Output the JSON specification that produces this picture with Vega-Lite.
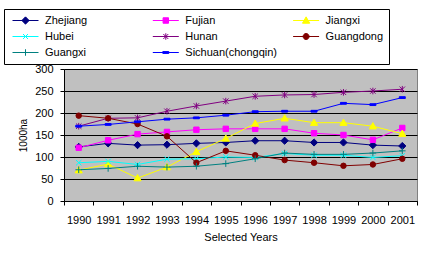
{
  "$schema": "https://vega.github.io/schema/vega-lite/v6.json",
  "width": 353,
  "height": 132,
  "autosize": {"type": "none"},
  "padding": {"left": 64, "top": 69, "right": 15, "bottom": 55},
  "background": "white",
  "config": {
    "font": "Liberation Sans",
    "view": {"fill": "#C0C0C0", "stroke": "#808080", "strokeWidth": 1}
  },
  "data": {
    "values": [
      {"year": 1990, "series": "Zhejiang", "value": 123}, {"year": 1991, "series": "Zhejiang", "value": 131}, {"year": 1992, "series": "Zhejiang", "value": 127}, {"year": 1993, "series": "Zhejiang", "value": 128}, {"year": 1994, "series": "Zhejiang", "value": 131}, {"year": 1995, "series": "Zhejiang", "value": 133}, {"year": 1996, "series": "Zhejiang", "value": 137}, {"year": 1997, "series": "Zhejiang", "value": 137}, {"year": 1998, "series": "Zhejiang", "value": 133}, {"year": 1999, "series": "Zhejiang", "value": 133}, {"year": 2000, "series": "Zhejiang", "value": 127}, {"year": 2001, "series": "Zhejiang", "value": 125},
      {"year": 1990, "series": "Fujian", "value": 121}, {"year": 1991, "series": "Fujian", "value": 138}, {"year": 1992, "series": "Fujian", "value": 152}, {"year": 1993, "series": "Fujian", "value": 157}, {"year": 1994, "series": "Fujian", "value": 162}, {"year": 1995, "series": "Fujian", "value": 164}, {"year": 1996, "series": "Fujian", "value": 164}, {"year": 1997, "series": "Fujian", "value": 164}, {"year": 1998, "series": "Fujian", "value": 154}, {"year": 1999, "series": "Fujian", "value": 150}, {"year": 2000, "series": "Fujian", "value": 139}, {"year": 2001, "series": "Fujian", "value": 166},
      {"year": 1990, "series": "Jiangxi", "value": 70}, {"year": 1991, "series": "Jiangxi", "value": 84}, {"year": 1992, "series": "Jiangxi", "value": 52}, {"year": 1993, "series": "Jiangxi", "value": 77}, {"year": 1994, "series": "Jiangxi", "value": 112}, {"year": 1995, "series": "Jiangxi", "value": 142}, {"year": 1996, "series": "Jiangxi", "value": 176}, {"year": 1997, "series": "Jiangxi", "value": 188}, {"year": 1998, "series": "Jiangxi", "value": 178}, {"year": 1999, "series": "Jiangxi", "value": 178}, {"year": 2000, "series": "Jiangxi", "value": 170}, {"year": 2001, "series": "Jiangxi", "value": 153},
      {"year": 1990, "series": "Hubei", "value": 87}, {"year": 1991, "series": "Hubei", "value": 90}, {"year": 1992, "series": "Hubei", "value": 83}, {"year": 1993, "series": "Hubei", "value": 95}, {"year": 1994, "series": "Hubei", "value": 96}, {"year": 1995, "series": "Hubei", "value": 100}, {"year": 1996, "series": "Hubei", "value": 99}, {"year": 1997, "series": "Hubei", "value": 108}, {"year": 1998, "series": "Hubei", "value": 104}, {"year": 1999, "series": "Hubei", "value": 104}, {"year": 2000, "series": "Hubei", "value": 99}, {"year": 2001, "series": "Hubei", "value": 103},
      {"year": 1990, "series": "Hunan", "value": 170}, {"year": 1991, "series": "Hunan", "value": 188}, {"year": 1992, "series": "Hunan", "value": 189}, {"year": 1993, "series": "Hunan", "value": 204}, {"year": 1994, "series": "Hunan", "value": 216}, {"year": 1995, "series": "Hunan", "value": 227}, {"year": 1996, "series": "Hunan", "value": 238}, {"year": 1997, "series": "Hunan", "value": 241}, {"year": 1998, "series": "Hunan", "value": 242}, {"year": 1999, "series": "Hunan", "value": 247}, {"year": 2000, "series": "Hunan", "value": 250}, {"year": 2001, "series": "Hunan", "value": 254},
      {"year": 1990, "series": "Guangdong", "value": 194}, {"year": 1991, "series": "Guangdong", "value": 188}, {"year": 1992, "series": "Guangdong", "value": 175}, {"year": 1993, "series": "Guangdong", "value": 147}, {"year": 1994, "series": "Guangdong", "value": 87}, {"year": 1995, "series": "Guangdong", "value": 114}, {"year": 1996, "series": "Guangdong", "value": 104}, {"year": 1997, "series": "Guangdong", "value": 93}, {"year": 1998, "series": "Guangdong", "value": 87}, {"year": 1999, "series": "Guangdong", "value": 80}, {"year": 2000, "series": "Guangdong", "value": 83}, {"year": 2001, "series": "Guangdong", "value": 96},
      {"year": 1990, "series": "Guangxi", "value": 71}, {"year": 1991, "series": "Guangxi", "value": 74}, {"year": 1992, "series": "Guangxi", "value": 79}, {"year": 1993, "series": "Guangxi", "value": 77}, {"year": 1994, "series": "Guangxi", "value": 79}, {"year": 1995, "series": "Guangxi", "value": 85}, {"year": 1996, "series": "Guangxi", "value": 96}, {"year": 1997, "series": "Guangxi", "value": 109}, {"year": 1998, "series": "Guangxi", "value": 106}, {"year": 1999, "series": "Guangxi", "value": 106}, {"year": 2000, "series": "Guangxi", "value": 109}, {"year": 2001, "series": "Guangxi", "value": 114},
      {"year": 1990, "series": "Sichuan(chongqin)", "value": 170}, {"year": 1991, "series": "Sichuan(chongqin)", "value": 174}, {"year": 1992, "series": "Sichuan(chongqin)", "value": 180}, {"year": 1993, "series": "Sichuan(chongqin)", "value": 186}, {"year": 1994, "series": "Sichuan(chongqin)", "value": 189}, {"year": 1995, "series": "Sichuan(chongqin)", "value": 195}, {"year": 1996, "series": "Sichuan(chongqin)", "value": 203}, {"year": 1997, "series": "Sichuan(chongqin)", "value": 204}, {"year": 1998, "series": "Sichuan(chongqin)", "value": 204}, {"year": 1999, "series": "Sichuan(chongqin)", "value": 222}, {"year": 2000, "series": "Sichuan(chongqin)", "value": 219}, {"year": 2001, "series": "Sichuan(chongqin)", "value": 235}
    ]
  },
  "encoding": {
    "x": {
      "field": "year",
      "type": "quantitative",
      "scale": {"domain": [1989.5, 2001.5], "nice": false, "zero": false},
      "axis": {
        "values": [1989.5, 1990.5, 1991.5, 1992.5, 1993.5, 1994.5, 1995.5, 1996.5, 1997.5, 1998.5, 1999.5, 2000.5, 2001.5],
        "labelExpr": "datum.value > 2001 ? '' : format(datum.value + 0.5, 'd')",
        "labelOffset": 14.7,
        "grid": false,
        "domainColor": "black",
        "tickColor": "black",
        "tickSize": 4,
        "labelPadding": 9,
        "labelFontSize": 11,
        "labelColor": "black",
        "labelOverlap": false,
        "labelFlush": false,
        "labelBound": false,
        "title": "Selected Years",
        "titleFontSize": 11,
        "titleFontWeight": "normal",
        "titleColor": "black",
        "titlePadding": 6
      }
    },
    "y": {
      "field": "value",
      "type": "quantitative",
      "scale": {"domain": [0, 300], "nice": false},
      "axis": {
        "values": [0, 50, 100, 150, 200, 250, 300],
        "grid": true,
        "gridColor": "black",
        "gridWidth": 1,
        "gridOpacity": 1,
        "domainColor": "black",
        "tickColor": "black",
        "tickSize": 4,
        "labelPadding": 7,
        "labelFontSize": 11,
        "labelColor": "black",
        "title": "1000ha",
        "titleFontSize": 10,
        "titleFontWeight": "normal",
        "titleColor": "black",
        "titlePadding": 6
      }
    }
  },
  "layer": [
    {
      "mark": {"type": "line", "strokeWidth": 1},
      "encoding": {
        "color": {
          "field": "series",
          "type": "nominal",
          "scale": {
            "domain": ["Zhejiang", "Fujian", "Jiangxi", "Hubei", "Hunan", "Guangdong", "Guangxi", "Sichuan(chongqin)"],
            "range": ["#000080", "#FF00FF", "#FFFF00", "#00FFFF", "#800080", "#800000", "#008080", "#0000FF"]
          },
          "legend": {
            "orient": "none",
            "legendX": -60,
            "legendY": -60,
            "columns": 3,
            "direction": "horizontal",
            "title": null,
            "strokeColor": "black",
            "padding": 5,
            "symbolSize": 676,
            "symbolStrokeWidth": 1,
            "symbolOffset": 3,
            "labelFontSize": 11,
            "labelColor": "black",
            "labelOffset": 6,
            "labelLimit": 200,
            "columnPadding": 12.3,
            "rowPadding": 3,
            "clipHeight": 13,
            "gridAlign": "all",
            "encode": {
              "symbols": {
                "update": {
                  "shape": {"signal": "datum.value === 'Zhejiang' ? 'M-1,0L1,0M0,-0.28L0.28,0L0,0.28L-0.28,0Z' : datum.value === 'Fujian' ? 'M-1,0L1,0M-0.21,-0.21L0.21,-0.21L0.21,0.21L-0.21,0.21Z' : datum.value === 'Jiangxi' ? 'M-1,0L1,0M0,-0.28L0.28,0.21L-0.28,0.21Z' : datum.value === 'Hubei' ? 'M-1,0L1,0M-0.19,-0.19L0.19,0.19M-0.19,0.19L0.19,-0.19' : datum.value === 'Hunan' ? 'M-1,0L1,0M-0.19,-0.19L0.19,0.19M-0.19,0.19L0.19,-0.19M0,-0.25L0,0.25' : datum.value === 'Guangdong' ? 'M-1,0L1,0M0.23,0A0.23,0.23,0,1,1,-0.23,0A0.23,0.23,0,1,1,0.23,0Z' : datum.value === 'Guangxi' ? 'M-1,0L1,0M0,-0.25L0,0.25' : 'M-1,0L1,0M-0.23,-0.07L0.23,-0.07L0.23,0.07L-0.23,0.07Z'"},
                  "fill": {"signal": "scale('color', datum.value)"},
                  "stroke": {"signal": "scale('color', datum.value)"}
                }
              }
            }
          }
        }
      }
    },
    {
      "transform": [{"filter": "datum.series === 'Zhejiang'"}],
      "mark": {"type": "point", "shape": "M0,-1.2L1.2,0L0,1.2L-1.2,0Z", "filled": true, "color": "#000080", "stroke": "#000080", "strokeWidth": 1, "size": 36, "opacity": 1}
    },
    {
      "transform": [{"filter": "datum.series === 'Fujian'"}],
      "mark": {"type": "point", "shape": "M-0.9,-0.9L0.9,-0.9L0.9,0.9L-0.9,0.9Z", "filled": true, "color": "#FF00FF", "stroke": "#FF00FF", "strokeWidth": 1, "size": 36, "opacity": 1}
    },
    {
      "transform": [{"filter": "datum.series === 'Jiangxi'"}],
      "mark": {"type": "point", "shape": "M0,-1.2L1.2,0.9L-1.2,0.9Z", "filled": true, "color": "#FFFF00", "stroke": "#FFFF00", "strokeWidth": 1, "size": 36, "opacity": 1}
    },
    {
      "transform": [{"filter": "datum.series === 'Hubei'"}],
      "mark": {"type": "point", "shape": "M-0.9,-0.9L0.9,0.9M-0.9,0.9L0.9,-0.9", "filled": false, "color": "#00FFFF", "strokeWidth": 1, "size": 36, "opacity": 1}
    },
    {
      "transform": [{"filter": "datum.series === 'Hunan'"}],
      "mark": {"type": "point", "shape": "M-0.9,-0.9L0.9,0.9M-0.9,0.9L0.9,-0.9M0,-1.1L0,1.1", "filled": false, "color": "#800080", "strokeWidth": 1, "size": 36, "opacity": 1}
    },
    {
      "transform": [{"filter": "datum.series === 'Guangdong'"}],
      "mark": {"type": "point", "shape": "circle", "filled": true, "color": "#800000", "stroke": "#800000", "strokeWidth": 1, "size": 30, "opacity": 1}
    },
    {
      "transform": [{"filter": "datum.series === 'Guangxi'"}],
      "mark": {"type": "point", "shape": "M-1.1,0L1.1,0M0,-1.1L0,1.1", "filled": false, "color": "#008080", "strokeWidth": 1, "size": 36, "opacity": 1}
    },
    {
      "transform": [{"filter": "datum.series === 'Sichuan(chongqin)'"}],
      "mark": {"type": "point", "shape": "M-1,-0.3L1,-0.3L1,0.3L-1,0.3Z", "filled": true, "color": "#0000FF", "stroke": "#0000FF", "strokeWidth": 1, "size": 36, "opacity": 1}
    }
  ]
}
